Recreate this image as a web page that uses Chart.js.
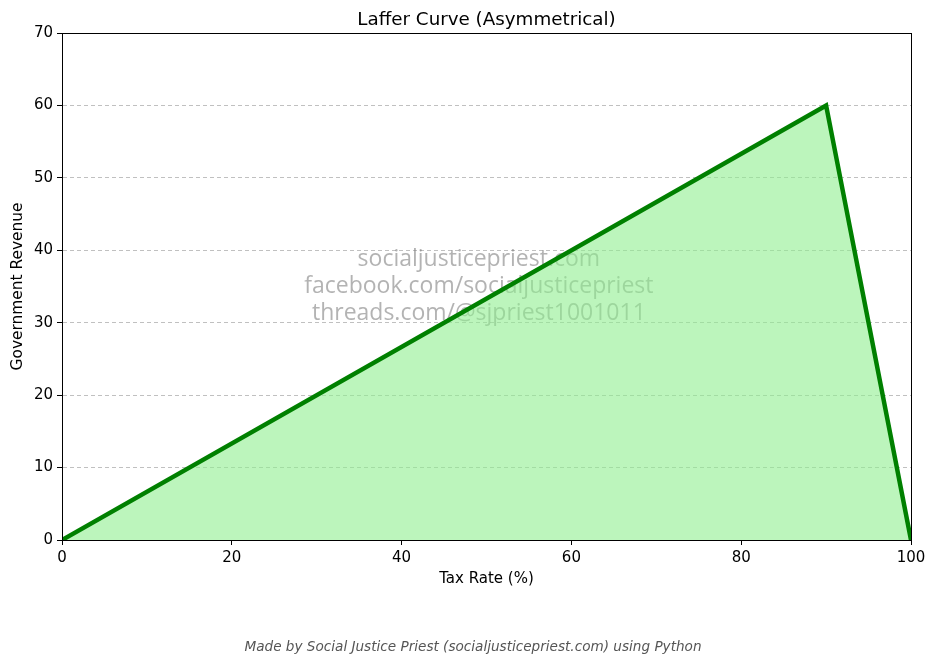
<!DOCTYPE html>
<html>
<head>
<meta charset="utf-8">
<script src="https://cdn.jsdelivr.net/npm/chart.js@4.4.0/dist/chart.umd.min.js"></script>
<style>
html,body{margin:0;padding:0;background:#fff;}
#wrap{width:936px;height:665px;}
</style>
</head>
<body>
<div id="wrap"><canvas id="c" width="936" height="665"></canvas></div>
<script>
const taxRates = [0, 90, 100];
const revenue = [0, 60, 0];
const yTicks = [0, 10, 20, 30, 40, 50, 60, 70];
const xTicks = [0, 20, 40, 60, 80, 100];
const titleText = 'Laffer Curve (Asymmetrical)';
const xTitle = 'Tax Rate (%)';
const yTitle = 'Government Revenue';
const watermarkLines = ['socialjusticepriest.com', 'facebook.com/socialjusticepriest', 'threads.com/@sjpriest1001011'];
const footerText = 'Made by Social Justice Priest (socialjusticepriest.com) using Python';

const FONT = "'DejaVu Sans', sans-serif";

const decor = {
  id: 'decor',
  beforeDatasetsDraw(chart) {
    const {ctx, chartArea: a} = chart;
    ctx.save();
    ctx.font = "23px 'Open Sans', 'Noto Sans', sans-serif";
    ctx.fillStyle = 'rgba(128,128,128,0.6)';
    ctx.textAlign = 'center';
    ctx.textBaseline = 'middle';
    const cx = a.left + (a.right - a.left) * 0.491;
    const cy = (a.top + a.bottom) / 2;
    watermarkLines.forEach((t, i) => ctx.fillText(t, cx, cy + (i - 1) * 27));
    ctx.restore();
  },
  afterDraw(chart) {
    const {ctx, chartArea: a} = chart;
    ctx.save();
    ctx.strokeStyle = '#000';
    ctx.lineWidth = 1;
    ctx.strokeRect(a.left + 0.5, a.top + 0.5, a.right - a.left, a.bottom - a.top);
    ctx.fillStyle = '#000';
    ctx.font = "18.3px " + FONT;
    ctx.textAlign = 'center';
    ctx.textBaseline = 'middle';
    ctx.fillText(titleText, (a.left + a.right) / 2, 20);
    ctx.font = "italic 13.6px " + FONT;
    ctx.fillStyle = '#555';
    ctx.fillText(footerText, 473, 647);
    ctx.restore();
  }
};

new Chart(document.getElementById('c'), {
  type: 'line',
  data: {
    datasets: [{
      data: taxRates.map((x, i) => ({x, y: revenue[i]})),
      borderColor: '#008000',
      borderWidth: 4.5,
      backgroundColor: 'rgba(144,238,144,0.6)',
      fill: 'origin',
      pointRadius: 0,
      tension: 0
    }]
  },
  options: {
    responsive: false,
    animation: false,
    devicePixelRatio: 1,
    layout: {padding: {top: 33, right: 25, bottom: 74, left: 0}},
    plugins: {legend: {display: false}, tooltip: {enabled: false}},
    scales: {
      x: {
        type: 'linear', min: 0, max: 100,
        afterBuildTicks(s) { s.ticks = xTicks.map(v => ({value: v})); },
        afterFit(s) { s.height = 51; },
        grid: {drawOnChartArea: false, drawTicks: true, tickLength: 5, tickColor: '#000', tickWidth: 1},
        border: {display: true, color: '#000', width: 1},
        ticks: {color: '#000', font: {family: FONT, size: 15}, padding: 4, maxRotation: 0},
        title: {display: true, text: xTitle, color: '#000', font: {family: FONT, size: 15}, padding: {top: 4, bottom: 3}}
      },
      y: {
        type: 'linear', min: 0, max: 70,
        afterBuildTicks(s) { s.ticks = yTicks.map(v => ({value: v})); },
        afterFit(s) { s.width = 62; },
        grid: {color: '#c0c0c0', lineWidth: 1, drawTicks: true, tickLength: 5, tickColor: '#000', tickWidth: 1},
        border: {display: true, color: '#000', width: 1, dash: [4, 3]},
        ticks: {color: '#000', font: {family: FONT, size: 15}, padding: 4},
        title: {display: true, text: yTitle, color: '#000', font: {family: FONT, size: 15.4}, padding: {top: 9, bottom: 4}}
      }
    }
  },
  plugins: [decor]
});
</script>
</body>
</html>
